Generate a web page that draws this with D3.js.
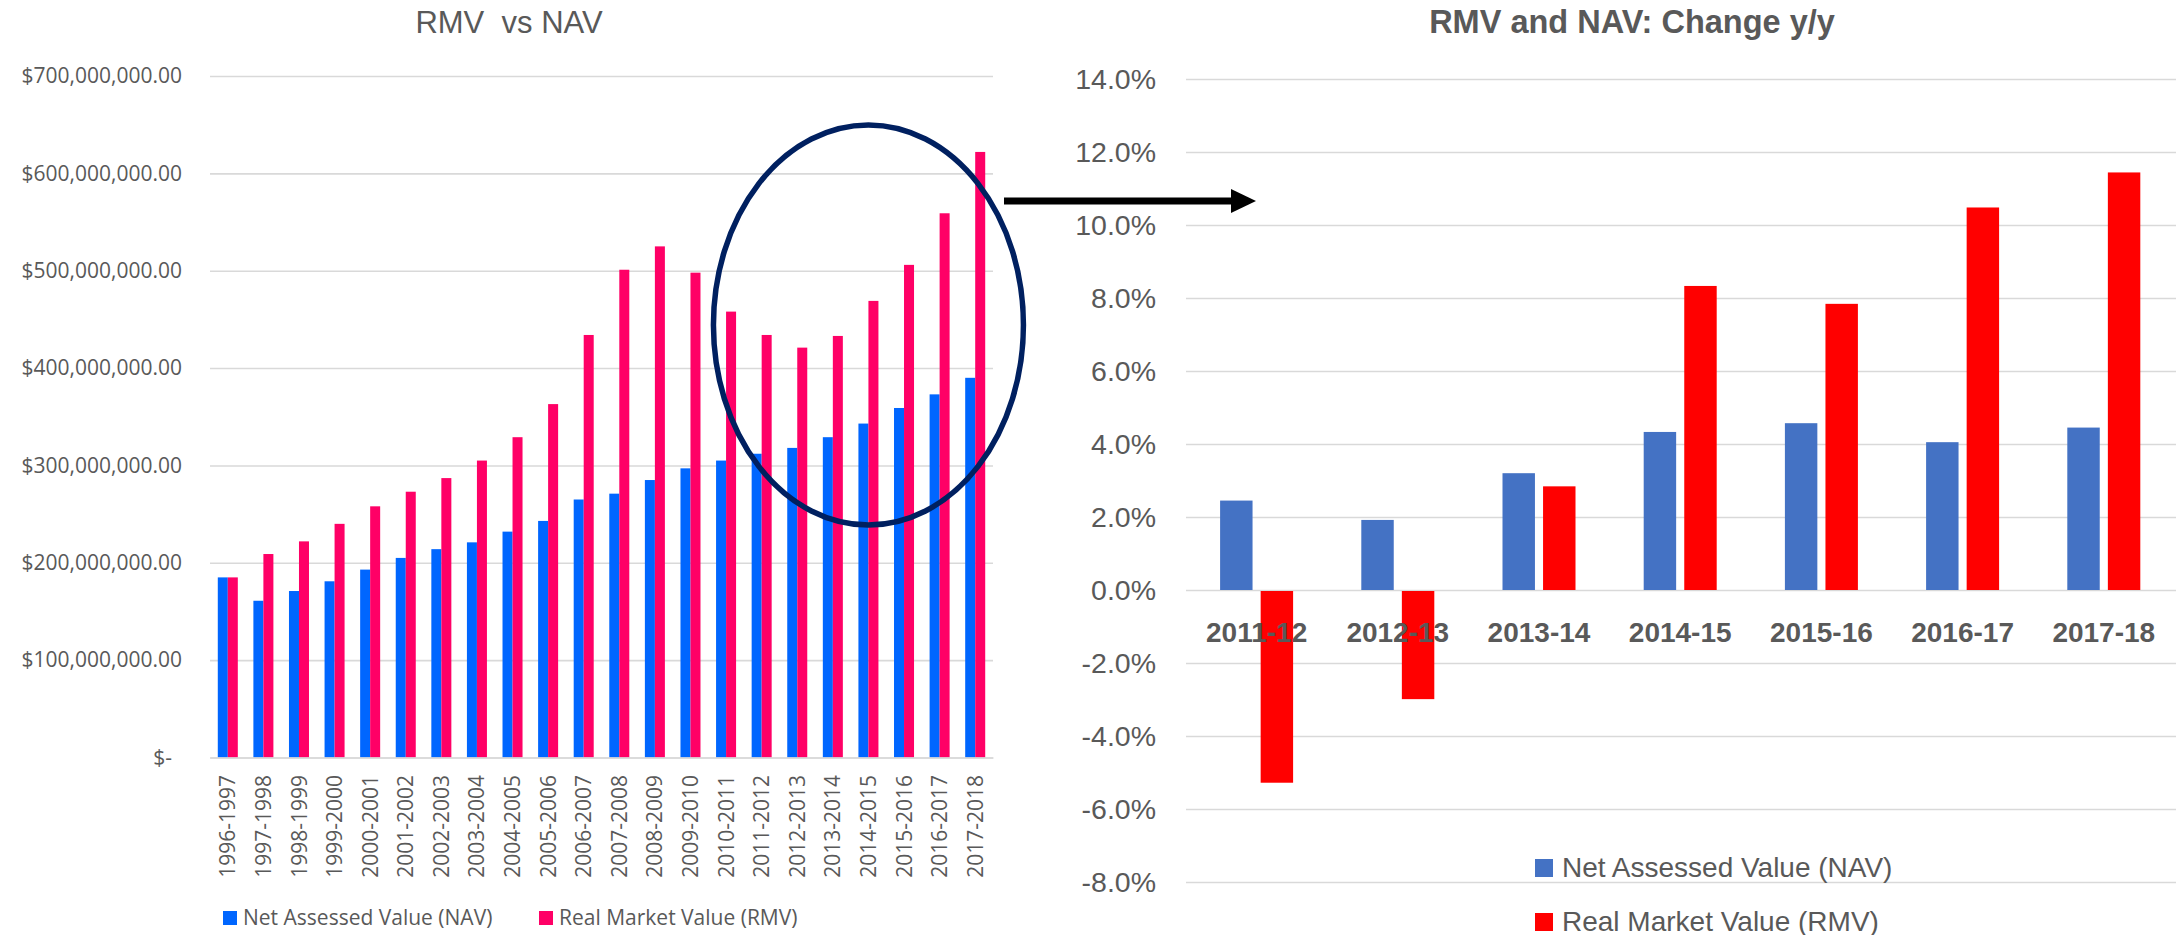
<!DOCTYPE html>
<html>
<head>
<meta charset="utf-8">
<script src="https://cdn.jsdelivr.net/npm/d3@7"></script>
<style>
  body { margin: 0; background: #fff; }
  svg { display: block; }
  .grid line { stroke: #d9d9d9; stroke-width: 1.6; }
</style>
</head>
<body>
<div id="chart"></div>
<script>
// Left chart data: values in dollars
var years = ["1996-1997", "1997-1998", "1998-1999", "1999-2000", "2000-2001", "2001-2002",
  "2002-2003", "2003-2004", "2004-2005", "2005-2006", "2006-2007", "2007-2008", "2008-2009",
  "2009-2010", "2010-2011", "2011-2012", "2012-2013", "2013-2014", "2014-2015", "2015-2016",
  "2016-2017", "2017-2018"];
var navValues = [185e6, 161e6, 171e6, 181e6, 193e6, 205e6, 214e6, 221e6, 232e6, 243e6, 265e6,
  271e6, 285e6, 297e6, 305e6, 312e6, 318e6, 329e6, 343e6, 359e6, 373e6, 390e6];
var rmvValues = [185e6, 209e6, 222e6, 240e6, 258e6, 273e6, 287e6, 305e6, 329e6, 363e6, 434e6,
  501e6, 525e6, 498e6, 458e6, 434e6, 421e6, 433e6, 469e6, 506e6, 559e6, 622e6];
var leftTicks = [0, 100e6, 200e6, 300e6, 400e6, 500e6, 600e6, 700e6];

// Right chart data: percent change year over year
var periods = ["2011-12", "2012-13", "2013-14", "2014-15", "2015-16", "2016-17", "2017-18"];
var navChange = [2.45, 1.92, 3.20, 4.33, 4.57, 4.05, 4.45];
var rmvChange = [-5.28, -2.99, 2.84, 8.33, 7.84, 10.48, 11.44];
var rightTicks = [-8, -6, -4, -2, 0, 2, 4, 6, 8, 10, 12, 14];

var seriesNames = ["Net Assessed Value (NAV)", "Real Market Value (RMV)"];

var svgWidth = 2176;
var svgHeight = 935;
var textColor = "#595959";

var svg = d3.select("#chart").append("svg")
  .attr("width", svgWidth)
  .attr("height", svgHeight);

// ---------------- Left chart: RMV vs NAV ----------------
var left = { x0: 210, x1: 993, top: 76, bottom: 757.5 };
var leftFont = "'Open Sans', 'DejaVu Sans', sans-serif";
var leftColors = ["#0066ff", "#ff0066"];

var xLeft = d3.scaleBand()
  .domain(years)
  .range([left.x0, left.x1])
  .paddingInner(0.4377)
  .paddingOuter(0.2189);
var xLeftInner = d3.scaleBand()
  .domain([0, 1])
  .range([0, xLeft.bandwidth()]);
var yLeft = d3.scaleLinear()
  .domain([0, 700e6])
  .range([left.bottom, left.top]);

svg.append("text")
  .attr("x", 509)
  .attr("y", 33)
  .attr("text-anchor", "middle")
  .style("white-space", "pre")
  .style("font-family", "'Liberation Sans', Arial, sans-serif")
  .style("font-size", "31px")
  .attr("fill", textColor)
  .text("RMV  vs NAV");

// gridlines
svg.append("g")
  .attr("class", "grid")
  .attr("transform", `translate(${left.x0},0)`)
  .call(d3.axisRight(yLeft).tickValues(leftTicks).tickSize(left.x1 - left.x0).tickFormat(""))
  .call(g => g.select(".domain").remove());

// y labels
var fmtMoney = d3.format("$,.2f");
svg.append("g")
  .attr("transform", `translate(${left.x0},0)`)
  .call(d3.axisLeft(yLeft).tickValues(leftTicks).tickSize(0).tickPadding(28)
    .tickFormat(d => d === 0 ? "$-" : fmtMoney(d)))
  .call(g => g.select(".domain").remove())
  .call(g => g.selectAll("text")
    .attr("fill", textColor)
    .style("font-family", leftFont)
    .style("font-size", "21px")
    .attr("dx", d => d === 0 ? -10 : 0));

// bars
var leftGroups = svg.append("g").selectAll("g")
  .data(years)
  .enter()
  .append("g")
  .attr("transform", d => `translate(${xLeft(d)},0)`);

leftGroups.selectAll("rect")
  .data((d, i) => [navValues[i], rmvValues[i]])
  .enter()
  .append("rect")
  .attr("x", (d, j) => xLeftInner(j))
  .attr("width", xLeftInner.bandwidth())
  .attr("y", d => yLeft(d))
  .attr("height", d => yLeft(0) - yLeft(d))
  .attr("fill", (d, j) => leftColors[j]);

// x axis with rotated labels
svg.append("g")
  .attr("transform", `translate(0,${left.bottom})`)
  .call(d3.axisBottom(xLeft).tickSize(0).tickFormat(""))
  .call(g => g.select(".domain").attr("stroke", "#d9d9d9").attr("stroke-width", 1.6));

svg.append("g").selectAll("text")
  .data(years)
  .enter()
  .append("text")
  .attr("transform", d => `translate(${xLeft(d) + xLeft.bandwidth() / 2},775) rotate(-90)`)
  .attr("text-anchor", "end")
  .attr("dy", "0.36em")
  .attr("fill", textColor)
  .style("font-family", leftFont)
  .style("font-size", "21px")
  .text(d => d);

// legend
var leftLegendX = [223, 539];
var leftLegend = svg.append("g").selectAll("g")
  .data(seriesNames)
  .enter()
  .append("g")
  .attr("transform", (d, i) => `translate(${leftLegendX[i]},911)`);
leftLegend.append("rect")
  .attr("width", 14)
  .attr("height", 14)
  .attr("fill", (d, i) => leftColors[i]);
leftLegend.append("text")
  .attr("x", 20)
  .attr("y", 13.5)
  .attr("fill", textColor)
  .style("font-family", leftFont)
  .style("font-size", "21px")
  .text(d => d);

// ---------------- Annotation: ellipse + arrow ----------------
svg.append("ellipse")
  .attr("cx", xLeft("2014-2015") + xLeft.bandwidth() / 2)
  .attr("cy", 325)
  .attr("rx", 155)
  .attr("ry", 200)
  .attr("fill", "none")
  .attr("stroke", "#002060")
  .attr("stroke-width", 5.5);

svg.append("line")
  .attr("x1", 1004)
  .attr("x2", 1234)
  .attr("y1", 201)
  .attr("y2", 201)
  .attr("stroke", "#000")
  .attr("stroke-width", 7);
svg.append("path")
  .attr("d", "M1231,189 L1256,201 L1231,213 Z")
  .attr("fill", "#000");

// ---------------- Right chart: Change y/y ----------------
var right = { x0: 1186, x1: 2176, top: 79, bottom: 882 };
var rightFont = "'Liberation Sans', Arial, sans-serif";
var rightColors = ["#4472c4", "#ff0000"];

var xRight = d3.scaleBand()
  .domain(periods)
  .range([right.x0, right.x0 + 141.2 * periods.length])
  .paddingInner(0.483)
  .paddingOuter(0.2415);
var xRightInner = d3.scaleBand()
  .domain([0, 1])
  .range([0, xRight.bandwidth()])
  .paddingInner(0.2);
var yRight = d3.scaleLinear()
  .domain([-8, 14])
  .range([right.bottom, right.top]);

svg.append("text")
  .attr("x", 1632)
  .attr("y", 33)
  .attr("text-anchor", "middle")
  .style("font-family", rightFont)
  .style("font-weight", "bold")
  .style("font-size", "32.5px")
  .attr("fill", textColor)
  .text("RMV and NAV: Change y/y");

svg.append("g")
  .attr("class", "grid")
  .attr("transform", `translate(${right.x0},0)`)
  .call(d3.axisRight(yRight).tickValues(rightTicks).tickSize(right.x1 - right.x0).tickFormat(""))
  .call(g => g.select(".domain").remove());

svg.append("g")
  .attr("transform", `translate(${right.x0},0)`)
  .call(d3.axisLeft(yRight).tickValues(rightTicks).tickSize(0).tickPadding(30)
    .tickFormat(d => d.toFixed(1) + "%"))
  .call(g => g.select(".domain").remove())
  .call(g => g.selectAll("text")
    .attr("fill", textColor)
    .style("font-family", rightFont)
    .style("font-size", "28.5px"));

var rightGroups = svg.append("g").selectAll("g")
  .data(periods)
  .enter()
  .append("g")
  .attr("transform", d => `translate(${xRight(d)},0)`);

rightGroups.selectAll("rect")
  .data((d, i) => [navChange[i], rmvChange[i]])
  .enter()
  .append("rect")
  .attr("x", (d, j) => xRightInner(j))
  .attr("width", xRightInner.bandwidth())
  .attr("y", d => yRight(Math.max(0, d)) + (d < 0 ? 1 : 0))
  .attr("height", d => Math.abs(yRight(d) - yRight(0)) - (d < 0 ? 1 : 0))
  .attr("fill", (d, j) => rightColors[j]);

// category labels sit just under the zero line, drawn over the bars
svg.append("g").selectAll("text")
  .data(periods)
  .enter()
  .append("text")
  .attr("x", d => xRight(d) + xRight.bandwidth() / 2)
  .attr("y", 642)
  .attr("text-anchor", "middle")
  .attr("fill", textColor)
  .style("font-family", rightFont)
  .style("font-weight", "bold")
  .style("font-size", "28px")
  .text(d => d);

var rightLegend = svg.append("g").selectAll("g")
  .data(seriesNames)
  .enter()
  .append("g")
  .attr("transform", (d, i) => `translate(1535,${859 + i * 54})`);
rightLegend.append("rect")
  .attr("width", 18)
  .attr("height", 18)
  .attr("fill", (d, i) => rightColors[i]);
rightLegend.append("text")
  .attr("x", 27)
  .attr("y", 17.5)
  .attr("fill", textColor)
  .style("font-family", rightFont)
  .style("font-size", "28px")
  .text(d => d);
</script>
</body>
</html>
